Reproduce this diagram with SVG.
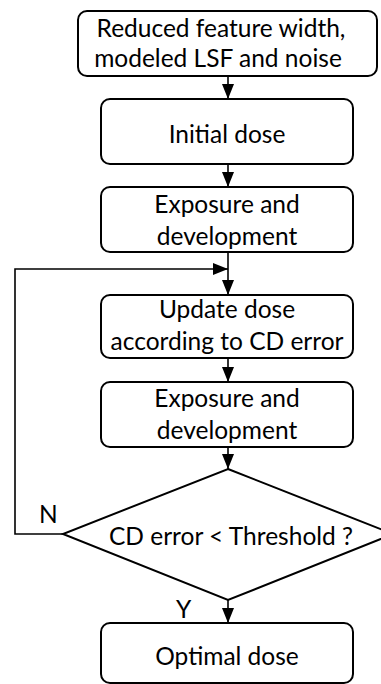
<svg xmlns="http://www.w3.org/2000/svg" width="381" height="684" viewBox="0 0 381 684">
<style>
.box{fill:#fff;stroke:#000;stroke-width:2}
.t{font-family:Lato,"Open Sans",sans-serif;font-size:24.5px;fill:#000;text-anchor:middle}
.l{font-family:Lato,"Open Sans",sans-serif;font-size:24.5px;fill:#000}
.c{fill:none;stroke:#000;stroke-width:1.6}
</style>
<defs>
<marker id="ah" markerWidth="15" markerHeight="12" refX="15" refY="6" orient="auto" markerUnits="userSpaceOnUse" viewBox="0 0 15 12">
<path d="M0,0 L15,6 L0,12 Z" fill="#000"/>
</marker>
</defs>
<rect width="381" height="684" fill="#fff"/>
<g id="connectors">
<line class="c" x1="228" y1="76" x2="228" y2="99" marker-end="url(#ah)"/>
<line class="c" x1="228" y1="164" x2="228" y2="187" marker-end="url(#ah)"/>
<line class="c" x1="228" y1="252" x2="228" y2="295" marker-end="url(#ah)"/>
<polyline class="c" points="63,534 15,534 15,269 228,269" marker-end="url(#ah)"/>
<line class="c" x1="228" y1="358" x2="228" y2="382" marker-end="url(#ah)"/>
<line class="c" x1="228" y1="447" x2="228" y2="469" marker-end="url(#ah)"/>
<line class="c" x1="228" y1="600" x2="228" y2="623" marker-end="url(#ah)"/>
</g>
<g id="n1">
<rect class="box" x="78" y="11" width="299" height="65" rx="9"/>
<text class="t" x="221" y="37">Reduced feature width,</text>
<text class="t" x="218" y="67">modeled LSF and noise</text>
</g>
<g id="n2">
<rect class="box" x="101" y="99" width="252" height="65" rx="9"/>
<text class="t" x="227" y="143">Initial dose</text>
</g>
<g id="n3">
<rect class="box" x="101" y="187" width="252" height="65" rx="9"/>
<text class="t" x="227" y="213">Exposure and</text>
<text class="t" x="227" y="245">development</text>
</g>
<g id="n4">
<rect class="box" x="101" y="295" width="252" height="63" rx="9"/>
<text class="t" x="227" y="318">Update dose</text>
<text class="t" x="227" y="350">according to CD error</text>
</g>
<g id="n5">
<rect class="box" x="101" y="382" width="252" height="65" rx="9"/>
<text class="t" x="227" y="407">Exposure and</text>
<text class="t" x="227" y="439">development</text>
</g>
<g id="n6">
<polygon class="box" points="228,469 393,534 228,600 63,534"/>
<text class="t" x="231" y="545">CD error &lt; Threshold ?</text>
</g>
<g id="n7">
<rect class="box" x="101" y="623" width="252" height="60" rx="9"/>
<text class="t" x="227" y="665">Optimal dose</text>
</g>
<g id="labels">
<text class="l" x="39" y="523">N</text>
<text class="l" x="176" y="618">Y</text>
</g>
</svg>
